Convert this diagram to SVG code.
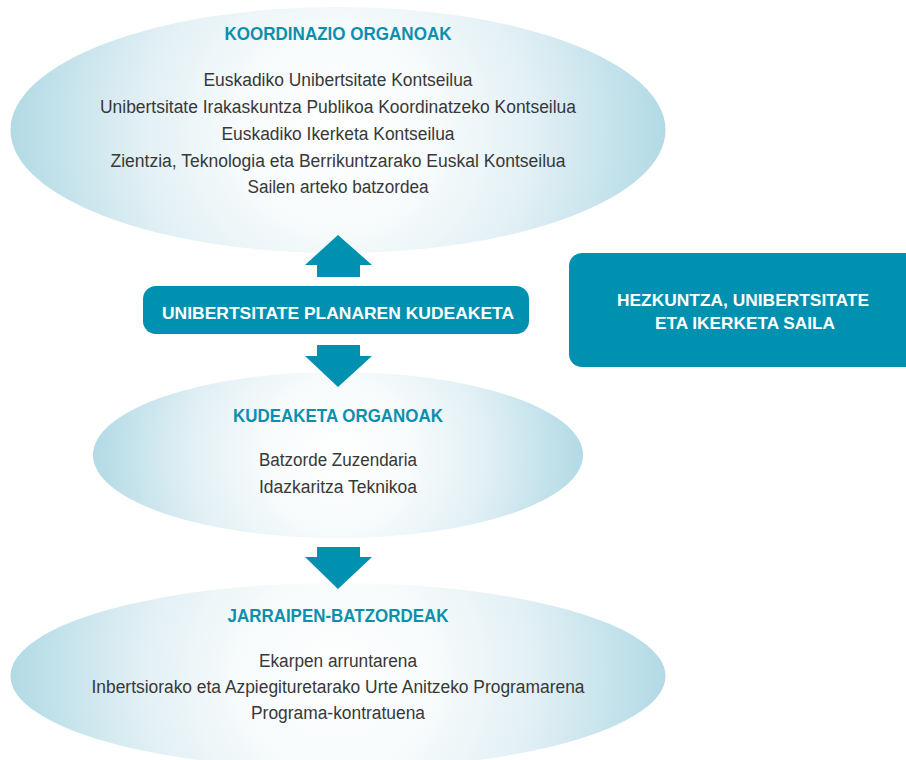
<svg xmlns="http://www.w3.org/2000/svg" width="906" height="760" viewBox="0 0 906 760">
  <defs>
    <radialGradient id="gTop" gradientUnits="userSpaceOnUse" cx="338" cy="130" r="327.5">
      <stop offset="0" stop-color="#ffffff"/>
      <stop offset="0.3" stop-color="#f7fbfc"/>
      <stop offset="0.6" stop-color="#e2f0f5"/>
      <stop offset="1" stop-color="#b2dae5"/>
    </radialGradient>
    <radialGradient id="gMid" gradientUnits="userSpaceOnUse" cx="338" cy="455" r="245">
      <stop offset="0" stop-color="#ffffff"/>
      <stop offset="0.3" stop-color="#f7fbfc"/>
      <stop offset="0.6" stop-color="#e2f0f5"/>
      <stop offset="1" stop-color="#b2dae5"/>
    </radialGradient>
    <radialGradient id="gBot" gradientUnits="userSpaceOnUse" cx="338" cy="676" r="327.5">
      <stop offset="0" stop-color="#ffffff"/>
      <stop offset="0.3" stop-color="#f7fbfc"/>
      <stop offset="0.6" stop-color="#e2f0f5"/>
      <stop offset="1" stop-color="#b2dae5"/>
    </radialGradient>
  </defs>
  <style>
    .box { fill: #0090b0; }
    .arrow { fill: #0090b0; }
    .head { font-family: "Liberation Sans", Arial, sans-serif; font-weight: bold; font-size: 18px; fill: #0a8fae; text-anchor: middle; }
    .body { font-family: "Liberation Sans", Arial, sans-serif; font-size: 18px; fill: #383838; text-anchor: middle; }
    .btxt { font-family: "Liberation Sans", Arial, sans-serif; font-weight: bold; font-size: 16.5px; fill: #ffffff; text-anchor: middle; }
  </style>
  <rect width="906" height="760" fill="#ffffff"/>

  <g id="koordinazio-organoak">
    <ellipse fill="url(#gTop)" cx="338" cy="130" rx="327.5" ry="123"/>
    <text class="head" x="338" y="40" textLength="227" lengthAdjust="spacingAndGlyphs">KOORDINAZIO ORGANOAK</text>
    <text class="body" x="338" y="86" textLength="269" lengthAdjust="spacingAndGlyphs">Euskadiko Unibertsitate Kontseilua</text>
    <text class="body" x="338" y="112.5" textLength="476" lengthAdjust="spacingAndGlyphs">Unibertsitate Irakaskuntza Publikoa Koordinatzeko Kontseilua</text>
    <text class="body" x="338" y="139.5" textLength="233" lengthAdjust="spacingAndGlyphs">Euskadiko Ikerketa Kontseilua</text>
    <text class="body" x="338" y="166.5" textLength="455" lengthAdjust="spacingAndGlyphs">Zientzia, Teknologia eta Berrikuntzarako Euskal Kontseilua</text>
    <text class="body" x="338" y="192.5" textLength="181" lengthAdjust="spacingAndGlyphs">Sailen arteko batzordea</text>
  </g>

  <g id="kudeaketa-organoak">
    <ellipse fill="url(#gMid)" cx="338" cy="455" rx="245" ry="83"/>
    <text class="head" x="338" y="422" textLength="210" lengthAdjust="spacingAndGlyphs">KUDEAKETA ORGANOAK</text>
    <text class="body" x="338" y="466" textLength="158" lengthAdjust="spacingAndGlyphs">Batzorde Zuzendaria</text>
    <text class="body" x="338" y="493" textLength="158" lengthAdjust="spacingAndGlyphs">Idazkaritza Teknikoa</text>
  </g>

  <g id="jarraipen-batzordeak">
    <ellipse fill="url(#gBot)" cx="338" cy="676" rx="327.5" ry="93"/>
    <text class="head" x="338" y="622" textLength="221" lengthAdjust="spacingAndGlyphs">JARRAIPEN-BATZORDEAK</text>
    <text class="body" x="338" y="667" textLength="158" lengthAdjust="spacingAndGlyphs">Ekarpen arruntarena</text>
    <text class="body" x="338" y="693" textLength="493" lengthAdjust="spacingAndGlyphs">Inbertsiorako eta Azpiegituretarako Urte Anitzeko Programarena</text>
    <text class="body" x="338" y="718.5" textLength="174" lengthAdjust="spacingAndGlyphs">Programa-kontratuena</text>
  </g>

  <g id="connectors">
    <polygon class="arrow" points="338,235 372,265 360,265 360,277 317,277 317,265 305,265"/>
    <polygon class="arrow" points="317,345 360,345 360,356 372,356 338,387 305,356 317,356"/>
    <polygon class="arrow" points="317,547 360,547 360,557 372,557 338,589 305,557 317,557"/>
  </g>

  <g id="unibertsitate-planaren-kudeaketa">
    <rect class="box" x="143" y="286" width="386" height="48" rx="13"/>
    <text class="btxt" x="338" y="318.5" textLength="352" lengthAdjust="spacingAndGlyphs">UNIBERTSITATE PLANAREN KUDEAKETA</text>
  </g>

  <g id="hezkuntza-saila">
    <rect class="box" x="569" y="253" width="360" height="114" rx="13"/>
    <text class="btxt" x="743" y="306" textLength="252" lengthAdjust="spacingAndGlyphs">HEZKUNTZA, UNIBERTSITATE</text>
    <text class="btxt" x="745" y="328.5" textLength="180" lengthAdjust="spacingAndGlyphs">ETA IKERKETA SAILA</text>
  </g>
</svg>
